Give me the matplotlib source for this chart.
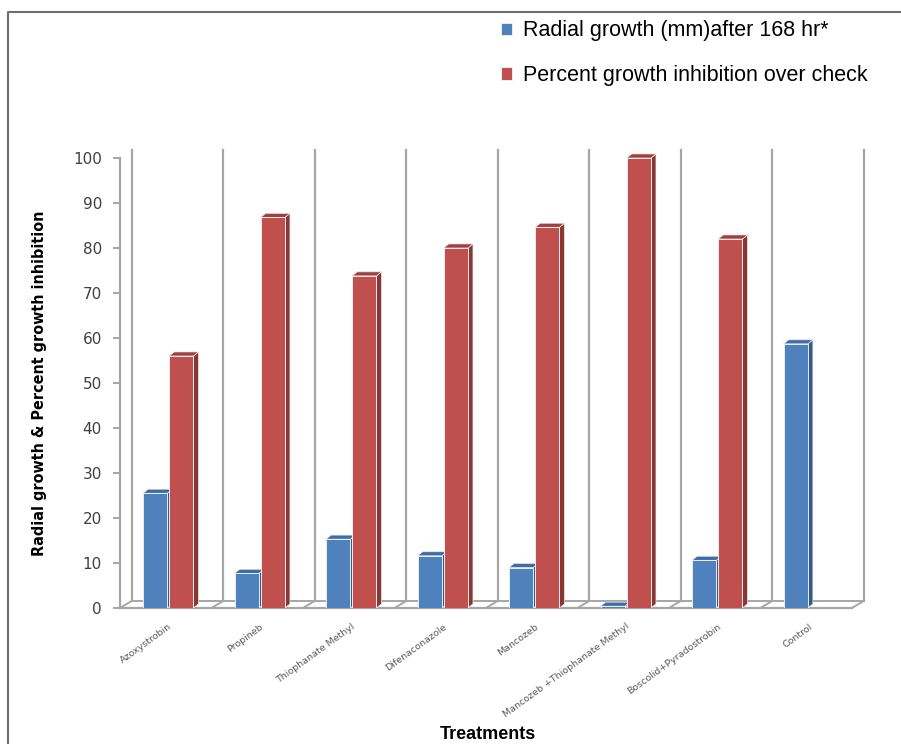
import numpy as np
import matplotlib.pyplot as plt
from matplotlib.patches import Polygon
from matplotlib.lines import Line2D

treatments = ["Azoxystrobin", "Propineb", "Thiophanate Methyl", "Difenaconazole",
              "Mancozeb", "Mancozeb +Thiophanate Methyl", "Boscolid+Pyradostrobin", "Control"]
radial_growth = [25.5, 7.7, 15.3, 11.6, 9.0, 0.4, 10.6, 58.7]
inhibition = [56.0, 86.8, 73.8, 80.0, 84.6, 100.0, 82.0, 0.0]

BLUE = "#4F81BD"
RED = "#C0504D"
BLUE_SIDE, BLUE_TOP = "#35598A", "#3F6CA5"
RED_SIDE, RED_TOP = "#8A3633", "#A03F3C"
GRID = "#A6A6A6"

# oblique offsets (data units) for the fake 3D look
WALL_DX, WALL_DY = 0.126, 1.55
BAR_DX, BAR_DY = 0.055, 0.9

fig = plt.figure(figsize=(9.01, 7.44), dpi=100)
ax = fig.add_axes([120 / 901, 1 - 608 / 744, 732 / 901, 450 / 744])
ax.set_xlim(-0.5, 7.5)
ax.set_ylim(0, 100)

x = np.arange(len(treatments))
n = len(treatments)

# back wall dividers and floor
for i in range(n + 1):
    xb = i - 0.5
    ax.plot([xb + WALL_DX] * 2, [WALL_DY, 101.8], color=GRID, lw=1.6, clip_on=False, zorder=1)
    ax.plot([xb, xb + WALL_DX], [0, WALL_DY], color=GRID, lw=1.4, clip_on=False, zorder=1)
ax.plot([-0.5, 7.5], [0, 0], color=GRID, lw=1.6, clip_on=False, zorder=1)
ax.plot([-0.5 + WALL_DX, 7.5 + WALL_DX], [WALL_DY, WALL_DY], color=GRID, lw=1.4, clip_on=False, zorder=1)


def bars3d(xc, vals, width, front, side, top):
    bars = ax.bar(xc, vals, width=width, color=front, edgecolor="#E8EEF6", linewidth=0.7, zorder=3)
    for xi, v in zip(xc, vals):
        if v <= 0:
            continue
        x0, x1 = xi - width / 2, xi + width / 2
        ax.add_patch(Polygon([(x1, 0), (x1 + BAR_DX, BAR_DY), (x1 + BAR_DX, v + BAR_DY), (x1, v)],
                             closed=True, facecolor=side, edgecolor="#E8E8E8", lw=0.5, zorder=2,
                             clip_on=False))
        ax.add_patch(Polygon([(x0, v), (x1, v), (x1 + BAR_DX, v + BAR_DY), (x0 + BAR_DX, v + BAR_DY)],
                             closed=True, facecolor=top, edgecolor="#E8E8E8", lw=0.5, zorder=2,
                             clip_on=False))
    return bars


w = 0.265
b1 = bars3d(x - 0.115, radial_growth, w, BLUE, BLUE_SIDE, BLUE_TOP)
b2 = bars3d(x + 0.17, inhibition, w, RED, RED_SIDE, RED_TOP)

for s in ["top", "right", "bottom"]:
    ax.spines[s].set_visible(False)
ax.spines["left"].set_color(GRID)
ax.spines["left"].set_linewidth(1.6)

ax.set_yticks(np.arange(0, 101, 10))
ax.tick_params(axis="y", direction="out", length=5, width=1.4, color=GRID,
               labelsize=11, labelcolor="#404040", pad=8)
ax.set_xticks(x + 0.03)
ax.set_xticklabels(treatments, rotation=36, ha="right", rotation_mode="anchor",
                   fontsize=6.8, color="#595959")
ax.tick_params(axis="x", length=0, pad=10)

ax.set_ylabel("Radial growth & Percent growth inhibition", fontsize=11.5, fontweight="bold",
              family="DejaVu Sans", fontstretch="condensed")
ax.yaxis.set_label_coords(-73 / 732, 0.5)

fig.text(488 / 901, 1 / 744, "Treatments", ha="center", va="bottom",
         fontsize=13, fontweight="bold", family=["Liberation Sans", "DejaVu Sans"])

fig.legend([b1, b2], ["Radial growth (mm)after 168 hr*", "Percent growth inhibition over check"],
           loc="upper left", bbox_to_anchor=(482 / 901, 1 - 1 / 744), frameon=False,
           handlelength=0.5, handleheight=0.5, handletextpad=0.5, labelspacing=1.1,
           prop={"family": ["Liberation Sans", "DejaVu Sans"], "size": 15.5})

# outer frame
fig.add_artist(Line2D([8 / 901, 8 / 901, 1.0], [0, 1 - 12 / 744, 1 - 12 / 744],
                      transform=fig.transFigure, color="#6E6E6E", lw=1.5))

fig.savefig("out.png", dpi=100)
